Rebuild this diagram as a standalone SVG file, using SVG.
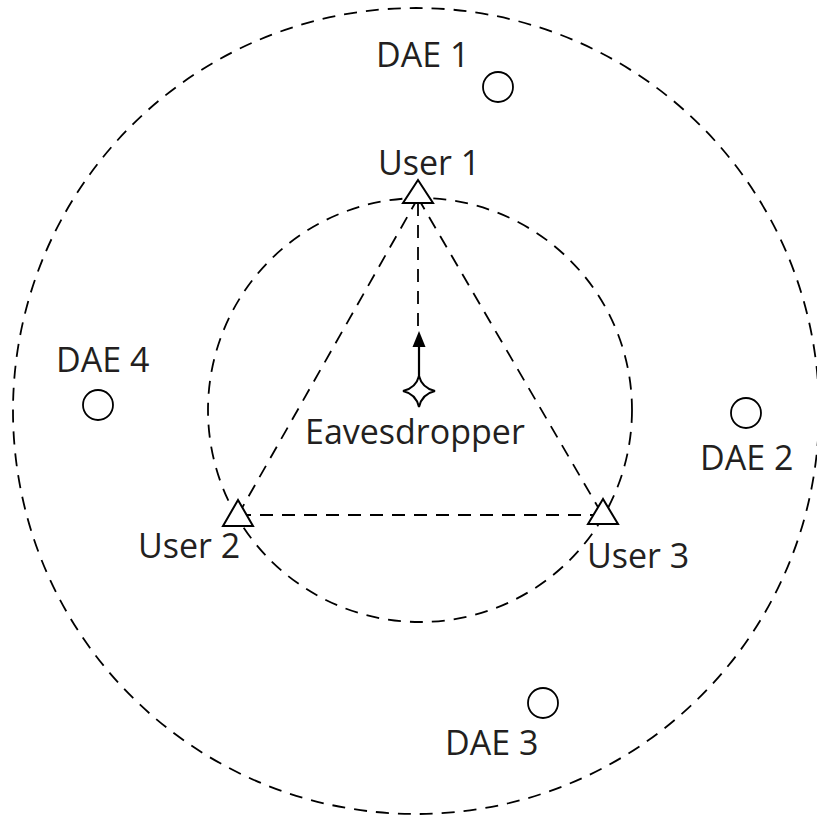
<svg xmlns="http://www.w3.org/2000/svg" width="817" height="817" viewBox="0 0 817 817">
<style>
.dash{fill:none;stroke:#000;stroke-width:1.8;stroke-dasharray:13 9}
.dae{fill:#fff;stroke:#000;stroke-width:1.8}
.usr{fill:#fff;stroke:#000;stroke-width:2}
text{font-family:"Open Sans","Liberation Sans",sans-serif;font-size:34px;fill:#231f20}
</style>
<rect width="817" height="817" fill="#fff"/>
<g id="connectors">
<circle class="dash" cx="416" cy="411" r="403"/>
<circle class="dash" cx="420" cy="410" r="212"/>
<line class="dash" x1="418" y1="198" x2="238" y2="515"/>
<line class="dash" x1="418" y1="198" x2="602" y2="514"/>
<line class="dash" x1="238" y1="515" x2="602" y2="515"/>
<line class="dash" x1="418" y1="203" x2="418" y2="334"/>
<line x1="419" y1="340" x2="419" y2="377" stroke="#000" stroke-width="2.2"/>
<polygon points="419,331 412.5,347 425.5,347" fill="#000"/>
</g>
<g id="dae1"><circle class="dae" cx="498" cy="87" r="15"/><text x="376" y="67">DAE 1</text></g>
<g id="dae2"><circle class="dae" cx="746" cy="413" r="15"/><text x="700" y="470">DAE 2</text></g>
<g id="dae3"><circle class="dae" cx="543" cy="703" r="15"/><text x="445" y="755">DAE 3</text></g>
<g id="dae4"><circle class="dae" cx="98" cy="405" r="15"/><text x="56" y="372">DAE 4</text></g>
<g id="user1"><polygon class="usr" points="418,180 403,203 433,203"/><text x="378" y="175">User 1</text></g>
<g id="user2"><polygon class="usr" points="238,500 223,526 253,526"/><text x="138" y="558">User 2</text></g>
<g id="user3"><polygon class="usr" points="603,499 588,524 618,524"/><text x="587" y="568">User 3</text></g>
<g id="eavesdropper"><path class="usr" d="M419,376 Q422,388 435,391 Q422,394 419,407 Q416,394 403,391 Q416,388 419,376 Z"/><text x="305" y="444">Eavesdropper</text></g>
</svg>
